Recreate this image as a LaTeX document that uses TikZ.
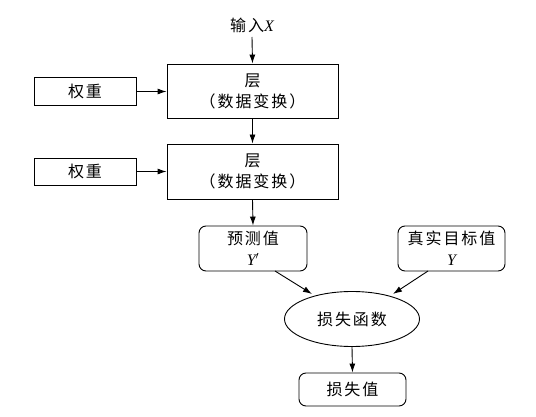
\documentclass[tikz,border=0pt]{standalone}
\usepackage{fontspec}
\setmainfont{Liberation Serif}
\newfontfamily\cjk{Noto Sans CJK SC}[LetterSpace=12]
\newcommand{\lat}[1]{{\rmfamily\itshape #1}}
\usetikzlibrary{shapes.geometric,arrows.meta}
\begin{document}
\begin{tikzpicture}[x=1pt,y=-1pt,
  every node/.style={font=\fontsize{16}{21}\selectfont\cjk, inner sep=0pt, align=center},
  sq/.style={draw, line width=0.9pt},
  rbox/.style={draw, line width=0.9pt, rounded corners=7pt},
  arr/.style={line width=0.9pt, -{Latex[length=9pt,width=6pt]}}]
\useasboundingbox (0,0) rectangle (536,417);
\node (in) at (252,25) {输入\lat{X}};
\node[sq, minimum width=171pt, minimum height=54pt] (l1) at (252.5,91) {层\\（数据变换）};
\node[sq, minimum width=171pt, minimum height=55pt] (l2) at (252.5,171.5) {层\\（数据变换）};
\node[sq, minimum width=102pt, minimum height=28pt] (w1) at (85,91.5) {权重};
\node[sq, minimum width=102pt, minimum height=27pt] (w2) at (85,171.5) {权重};
\node[rbox, minimum width=108pt, minimum height=45pt] (pred) at (253,248.5) {预测值\\\lat{Y}$^{\prime}$};
\node[rbox, minimum width=107pt, minimum height=45pt] (true) at (451.5,248.5) {真实目标值\\\lat{Y}};
\node[draw, ellipse, line width=0.9pt, minimum width=135pt, minimum height=55pt] (loss) at (352,319) {损失函数};
\node[rbox, minimum width=107pt, minimum height=33pt] (lv) at (352.5,389.5) {损失值};
\draw[arr] (252,37) -- (l1.north);
\draw[arr] (w1.east) -- (l1.west |- w1.east);
\draw[arr] (w2.east) -- (l2.west |- w2.east);
\draw[arr] (l1.south) -- (l2.north);
\draw[arr] (l2.south) -- (pred.north);
\draw[arr] (275,271) -- (312,294);
\draw[arr] (428,271) -- (393,294);
\draw[arr] (loss.south) -- (lv.north);
\end{tikzpicture}
\end{document}
